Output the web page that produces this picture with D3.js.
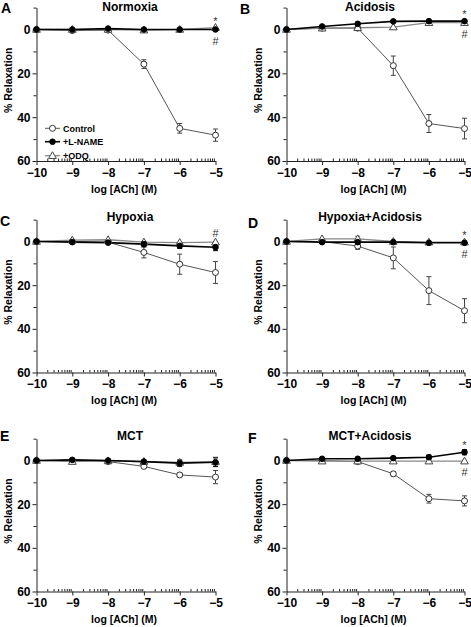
<!DOCTYPE html>
<html><head><meta charset="utf-8">
<script src="https://cdn.jsdelivr.net/npm/d3@7"></script>
<style>
body{margin:0;background:#fff;}
svg text{font-family:"Liberation Sans",Arial,sans-serif;fill:#000;}
</style></head>
<body><svg id="chart" width="471" height="627"></svg>
<script>
// ---------- data ----------
const logConc = [-10, -9, -8, -7, -6, -5];
const xTicks = [-10, -9, -8, -7, -6, -5];
const yMajorTicks = [0, 20, 40, 60];
const yMinorTicks = [-10, 10, 30, 50];
const seriesNames = ["Control", "+L-NAME", "+ODQ"];
const panelLetters = ["A", "B", "C", "D", "E", "F"];
const panelTitles = ["Normoxia", "Acidosis", "Hypoxia", "Hypoxia+Acidosis", "MCT", "MCT+Acidosis"];

// % relaxation (positive = relaxation, plotted downward)
const controlMean = [
  [0, 0.5, 0.3, 15.8, 45.1, 48.2],
  [0, -0.6, -0.6, 16.5, 42.9, 45.2],
  [0, 0.0, 0.3, 5.0, 10.4, 14.2],
  [0, 0.0, 2.1, 7.5, 22.5, 31.7],
  [0, 0.0, 0.5, 2.7, 6.6, 7.6],
  [0, 0.0, 0.5, 6.1, 17.5, 18.5]
];
const controlErr = [
  [0, 0.5, 0.5, 2.0, 2.2, 2.8],
  [0, 0.5, 0.5, 4.4, 4.1, 4.7],
  [0, 0.5, 0.5, 2.5, 4.6, 5.0],
  [0, 0.5, 1.5, 5.0, 6.4, 5.5],
  [0, 0.3, 0.3, 0.8, 1.0, 3.0],
  [0, 0.3, 0.3, 1.0, 2.0, 2.3]
];
const lnameMean = [
  [0, 0.0, -0.4, 0.0, 0.0, 0.0],
  [0, -1.4, -2.6, -3.7, -3.8, -3.8],
  [0, 0.3, 0.5, 1.2, 2.0, 2.6],
  [0, 0.3, 0.3, 0.3, 0.6, 0.6],
  [0, -0.3, 0.0, 0.5, 1.2, 0.8],
  [0, -0.8, -0.8, -1.1, -1.5, -3.8]
];
const lnameErr = [
  [0, 0.3, 0.3, 0.3, 0.3, 0.3],
  [0, 0.5, 0.5, 0.5, 0.5, 0.5],
  [0, 0.3, 0.3, 1.2, 1.2, 1.6],
  [0, 0.3, 0.3, 0.3, 0.3, 0.3],
  [0, 0.3, 0.3, 0.5, 1.5, 2.0],
  [0, 0.3, 0.3, 0.5, 1.0, 1.2]
];
const odqMean = [
  [0, 0.0, 0.0, 0.3, 0.0, -0.9],
  [0, -0.6, -0.8, -1.1, -3.1, -3.1],
  [0, -0.6, -0.8, 0.3, 0.5, 0.3],
  [0, -1.2, -1.2, 0.0, 0.3, 0.3],
  [0, 0.5, 0.2, 0.5, 0.9, 0.5],
  [0, 0.3, 0.3, 0.3, 0.3, 0.3]
];
const odqErr = [
  [0, 0.3, 0.3, 0.3, 0.3, 0.3],
  [0, 0.3, 0.3, 0.3, 0.3, 0.3],
  [0, 0.3, 0.3, 0.5, 0.5, 0.5],
  [0, 0.5, 1.2, 0.5, 0.3, 0.3],
  [0, 0.3, 0.3, 0.5, 0.8, 2.0],
  [0, 0.3, 0.3, 0.3, 0.3, 0.3]
];
// significance symbols at 10^-5 M: [symbol, side]
const sigMarks = [
  [["*", "above"], ["#", "below"]],
  [["*", "above"], ["#", "below"]],
  [["#", "above"]],
  [["*", "above"], ["#", "below"]],
  [],
  [["*", "above"], ["#", "below"]]
];

// ---------- layout ----------
const svg = d3.select("#chart");
const colX = [[36.5, 215.5], [286.5, 464.5]];
const rowY = [[29.5, 161], [241.5, 372.5], [460.5, 591.5]];
const letterPos = [[1, 13], [240, 13.5], [0, 225.5], [248, 227.5], [0, 440.5], [248, 442.5]];
const titleX = [130, 370];

const styles = [
  {line: "#555", lw: 1, shape: "circle", fill: "#fff", stroke: "#333", err: "#444"},
  {line: "#000", lw: 1.6, shape: "circle", fill: "#000", stroke: "#000", err: "#000"},
  {line: "#888", lw: 1.3, shape: "triangle", fill: "#fff", stroke: "#444", err: "#666"}
];

panelTitles.forEach((title, p) => {
  const col = p % 2, row = Math.floor(p / 2);
  const [xl, xr] = colX[col];
  const [y0, y60] = rowY[row];
  const yTop = y0 - (y60 - y0) / 6;
  const x = d3.scaleLinear().domain([-10, -5]).range([xl, xr]);
  const y = d3.scaleLinear().domain([-10, 60]).range([yTop, y60]);
  const g = svg.append("g");

  // y axis
  const yMajor = d3.axisLeft(y).tickValues(yMajorTicks).tickSize(4).tickSizeOuter(0).tickPadding(2);
  const ya = g.append("g").attr("transform", `translate(${xl},0)`).call(yMajor);
  ya.selectAll("text").style("font-size", "12px").style("font-weight", "bold");
  const yMinor = d3.axisLeft(y).tickValues(yMinorTicks).tickSize(3).tickFormat("");
  const ym = g.append("g").attr("transform", `translate(${xl},0)`).call(yMinor);
  ym.select(".domain").remove();

  // x axis
  const xMajor = d3.axisBottom(x).tickValues(xTicks).tickSize(4).tickSizeOuter(0).tickPadding(3)
    .tickFormat(d3.format("d"));
  const xa = g.append("g").attr("transform", `translate(0,${y60})`).call(xMajor);
  xa.selectAll("text").style("font-size", "12px").style("font-weight", "bold");
  const minorVals = [];
  for (let d = -10; d < -5; d++) for (let k = 2; k <= 9; k++) minorVals.push(d + Math.log10(k));
  const xMinor = d3.axisTop(x).tickValues(minorVals).tickSize(2.5).tickFormat("");
  const xm = g.append("g").attr("transform", `translate(0,${y60})`).call(xMinor);
  xm.select(".domain").remove();
  g.selectAll(".domain, .tick line").attr("stroke", "#222");

  // labels
  g.append("text").attr("x", (xl + xr) / 2 - 2).attr("y", y60 + 31.5).attr("text-anchor", "middle")
    .style("font-size", "10.5px").style("font-weight", "bold").text("log [ACh] (M)");
  g.append("text").attr("transform", `translate(${xl - 24.5},${(yTop + y60) / 2 - 4}) rotate(-90)`)
    .attr("text-anchor", "middle").style("font-size", "10.5px").style("font-weight", "bold").text("% Relaxation");
  g.append("text").attr("x", titleX[col]).attr("y", Math.max(yTop + 1.5, 11)).attr("text-anchor", "middle")
    .style("font-size", "12px").style("font-weight", "bold").text(title);
  g.append("text").attr("x", letterPos[p][0]).attr("y", letterPos[p][1])
    .style("font-size", "14px").style("font-weight", "bold").text(panelLetters[p]);

  const means = [controlMean[p], lnameMean[p], odqMean[p]];
  const errs = [controlErr[p], lnameErr[p], odqErr[p]];
  const line = d3.line().x((d, i) => x(logConc[i])).y(d => y(d));

  // lines
  [0, 2, 1].forEach(s => {
    g.append("path").datum(means[s]).attr("d", line).attr("fill", "none")
      .attr("stroke", styles[s].line).attr("stroke-width", styles[s].lw);
  });
  // error bars
  [0, 2, 1].forEach(s => {
    means[s].forEach((m, i) => {
      const e = errs[s][i];
      if (e <= 0.6) return;
      const cx = x(logConc[i]);
      const eg = g.append("g").attr("stroke", styles[s].err).attr("stroke-width", 1);
      eg.append("line").attr("x1", cx).attr("x2", cx).attr("y1", y(m - e)).attr("y2", y(m + e));
      eg.append("line").attr("x1", cx - 2.5).attr("x2", cx + 2.5).attr("y1", y(m - e)).attr("y2", y(m - e));
      eg.append("line").attr("x1", cx - 2.5).attr("x2", cx + 2.5).attr("y1", y(m + e)).attr("y2", y(m + e));
    });
  });
  // markers
  const tri = d3.symbol().type(d3.symbolTriangle).size(26);
  [0, 2, 1].forEach(s => {
    means[s].forEach((m, i) => {
      const cx = x(logConc[i]), cy = y(m);
      if (styles[s].shape === "circle") {
        g.append("circle").attr("cx", cx).attr("cy", cy).attr("r", s === 1 ? 2.8 : 3)
          .attr("fill", styles[s].fill).attr("stroke", styles[s].stroke).attr("stroke-width", 1);
      } else {
        g.append("path").attr("d", tri).attr("transform", `translate(${cx},${cy + 0.5})`)
          .attr("fill", styles[s].fill).attr("stroke", styles[s].stroke).attr("stroke-width", 1);
      }
    });
  });

  // significance symbols
  const last = logConc.length - 1;
  const treated = [lnameMean[p][last], odqMean[p][last]];
  sigMarks[p].forEach(([sym, side]) => {
    const cy = side === "above" ? y(d3.min(treated)) - 9 : y(d3.max(treated)) + 11;
    g.append("text").attr("x", x(logConc[last])).attr("y", cy + (sym === "*" ? 6 : 4))
      .attr("text-anchor", "middle").style("font-size", "11px").style("fill", "#333").text(sym);
  });

  // legend (panel A only)
  if (p === 0) {
    const ly = [128.3, 141.7, 155.7];
    seriesNames.forEach((name, s) => {
      const lg = g.append("g");
      lg.append("line").attr("x1", 45).attr("x2", 60).attr("y1", ly[s]).attr("y2", ly[s])
        .attr("stroke", styles[s].line).attr("stroke-width", styles[s].lw);
      if (styles[s].shape === "circle") {
        lg.append("circle").attr("cx", 52.5).attr("cy", ly[s]).attr("r", s === 1 ? 2.8 : 3)
          .attr("fill", styles[s].fill).attr("stroke", styles[s].stroke);
      } else {
        lg.append("path").attr("d", tri).attr("transform", `translate(52.5,${ly[s] + 0.5})`)
          .attr("fill", styles[s].fill).attr("stroke", styles[s].stroke);
      }
      lg.append("text").attr("x", 63).attr("y", ly[s] + 3.3).style("font-size", "9px")
        .style("font-weight", "bold").text(name);
    });
  }
});
</script></body></html>
